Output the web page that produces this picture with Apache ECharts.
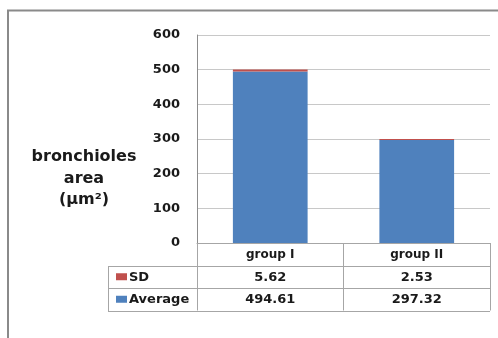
<!DOCTYPE html>
<html>
<head>
<meta charset="utf-8">
<script src="https://cdn.jsdelivr.net/npm/echarts@6/dist/echarts.min.js"></script>
<style>
  html, body { margin: 0; padding: 0; background: #fff; }
  #chart { width: 498px; height: 338px; }
</style>
</head>
<body>
<div id="chart"></div>
<script>
// Groups compared and the measured bronchiole areas
const categories = ['group I', 'group II'];
const averageValues = [494.61, 297.32];
const sdValues = [5.62, 2.53];
const seriesNames = ['SD', 'Average'];
const yTicks = [0, 100, 200, 300, 400, 500, 600];
const yTitleLines = ['bronchioles', 'area', '(µm²)'];

const BLUE = '#4F81BD';
const RED = '#C0504D';
const LINE = '#A6A6A6';
const FONT = 'DejaVu Sans';
const TEXT = '#1a1a1a';

// layout
const W = 498, H = 338;
const gridLeft = 197, gridRight = 8, gridTop = 35, gridBottom = 95;
const tableTop = H - gridBottom;           // x axis line = top of the data table
const rowH = 22.5;
const legendColLeft = 108;
const plotRight = W - gridRight;

const chart = echarts.init(document.getElementById('chart'), null, { renderer: 'canvas' });

const option = {
  animation: false,
  backgroundColor: '#fff',
  grid: { left: gridLeft, right: gridRight, top: gridTop, bottom: gridBottom, containLabel: false },
  xAxis: {
    type: 'category',
    data: categories,
    axisLine: { show: true, lineStyle: { color: LINE, width: 1 } },
    axisTick: { show: true, length: rowH * 3, lineStyle: { color: LINE, width: 1 } },
    axisLabel: {
      margin: 6, color: TEXT, fontFamily: FONT, fontWeight: 'bold', fontSize: 12,
      verticalAlign: 'top'
    }
  },
  yAxis: {
    type: 'value',
    min: yTicks[0],
    max: yTicks[yTicks.length - 1],
    interval: yTicks[1] - yTicks[0],
    axisLine: { show: true, lineStyle: { color: '#8C8C8C', width: 1 } },
    axisTick: { show: false },
    axisLabel: { margin: 17, color: TEXT, fontFamily: FONT, fontWeight: 'bold', fontSize: 13 },
    splitLine: { show: true, lineStyle: { color: '#C8C8C8', width: 1 } }
  },
  series: [
    {
      name: 'Average', type: 'bar', stack: 'total', data: averageValues,
      barWidth: '51%', itemStyle: { color: BLUE }
    },
    {
      name: 'SD', type: 'bar', stack: 'total', data: sdValues,
      barWidth: '51%', itemStyle: { color: RED }
    }
  ]
};
chart.setOption(option);

// Data table under the plot, laid out from the category axis positions
function buildTable() {
  const els = [];
  // outer chart frame
  els.push({
    type: 'rect', shape: { x: 8, y: 10.5, width: W + 20, height: H + 20 },
    style: { fill: 'none', stroke: '#8A8A8A', lineWidth: 2 }, silent: true
  });
  // y axis title
  yTitleLines.forEach((t, i) => {
    els.push({
      type: 'text', x: 84, y: 157 + i * 21.5,
      style: { text: t, fill: TEXT, font: 'bold 16px ' + FONT, align: 'center', verticalAlign: 'middle' }
    });
  });
  // horizontal rules of the table rows
  for (let r = 1; r <= 3; r++) {
    const y = Math.round(tableTop + rowH * r) + 0.5;
    els.push({
      type: 'line', shape: { x1: legendColLeft, y1: y, x2: plotRight, y2: y },
      style: { stroke: LINE, lineWidth: 1 }
    });
  }
  // legend column left edge
  els.push({
    type: 'line',
    shape: { x1: legendColLeft + 0.5, y1: Math.round(tableTop + rowH) + 0.5, x2: legendColLeft + 0.5, y2: Math.round(tableTop + rowH * 3) + 0.5 },
    style: { stroke: LINE, lineWidth: 1 }
  });
  const rows = [
    { name: seriesNames[0], color: RED, values: sdValues },
    { name: seriesNames[1], color: BLUE, values: averageValues }
  ];
  rows.forEach((row, i) => {
    const cy = tableTop + rowH * (i + 1) + rowH / 2 + 0.5;
    els.push({
      type: 'rect', shape: { x: legendColLeft + 8, y: cy - 4, width: 11, height: 7 },
      style: { fill: row.color }
    });
    els.push({
      type: 'text', x: legendColLeft + 21, y: cy,
      style: { text: row.name, fill: TEXT, font: 'bold 13px ' + FONT, align: 'left', verticalAlign: 'middle' }
    });
    categories.forEach((c, j) => {
      const cx = chart.convertToPixel({ xAxisIndex: 0 }, c);
      els.push({
        type: 'text', x: cx, y: cy,
        style: { text: row.values[j].toFixed(2), fill: TEXT, font: 'bold 13px ' + FONT, align: 'center', verticalAlign: 'middle' }
      });
    });
  });
  chart.setOption({ graphic: { elements: els } });
}
buildTable();
</script>
</body>
</html>
